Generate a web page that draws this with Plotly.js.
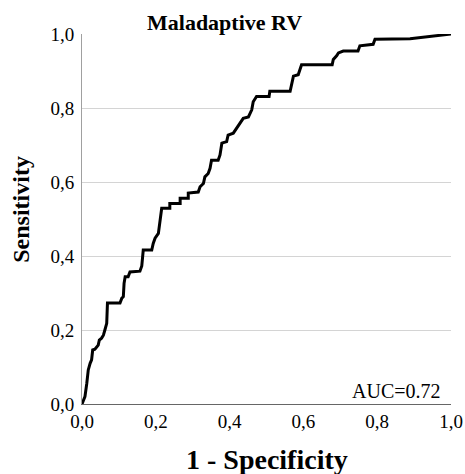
<!DOCTYPE html>
<html>
<head>
<meta charset="utf-8">
<script src="https://cdn.plot.ly/plotly-3.0.1.min.js"></script>
<style>html,body{margin:0;padding:0;background:#fff;}#chart{width:465px;height:474px;}</style>
</head>
<body>
<div id="chart"></div>
<script>
const fpr = [0, 0.008, 0.013, 0.017, 0.022, 0.026, 0.029, 0.035, 0.044, 0.047, 0.053, 0.058, 0.062, 0.067, 0.069, 0.103, 0.108, 0.112, 0.114, 0.117, 0.125, 0.130, 0.157, 0.162, 0.166, 0.189, 0.193, 0.198, 0.207, 0.211, 0.216, 0.238, 0.238, 0.266, 0.266, 0.288, 0.288, 0.315, 0.320, 0.329, 0.333, 0.342, 0.347, 0.351, 0.369, 0.374, 0.379, 0.392, 0.396, 0.410, 0.419, 0.428, 0.437, 0.451, 0.460, 0.464, 0.473, 0.507, 0.509, 0.564, 0.568, 0.573, 0.586, 0.591, 0.595, 0.678, 0.681, 0.690, 0.695, 0.708, 0.748, 0.753, 0.789, 0.794, 0.889, 1.0];
const tpr = [0, 0.020, 0.056, 0.092, 0.110, 0.119, 0.146, 0.148, 0.159, 0.173, 0.178, 0.186, 0.200, 0.218, 0.273, 0.273, 0.286, 0.290, 0.326, 0.344, 0.344, 0.357, 0.359, 0.373, 0.416, 0.416, 0.434, 0.448, 0.461, 0.488, 0.529, 0.529, 0.542, 0.542, 0.556, 0.556, 0.570, 0.573, 0.587, 0.596, 0.614, 0.623, 0.637, 0.659, 0.659, 0.673, 0.705, 0.709, 0.727, 0.732, 0.745, 0.759, 0.772, 0.776, 0.795, 0.817, 0.831, 0.831, 0.845, 0.845, 0.868, 0.886, 0.890, 0.908, 0.917, 0.917, 0.931, 0.941, 0.949, 0.954, 0.954, 0.968, 0.972, 0.986, 0.987, 1.0];
const tickVals = [0, 0.2, 0.4, 0.6, 0.8, 1.0];
const chartTitle = "Maladaptive RV";
const xTitle = "1 - Specificity";
const yTitle = "Sensitivity";
const aucLabel = "AUC=0.72";

const serif = "Liberation Serif";
const trace = {
  x: fpr, y: tpr, type: 'scatter', mode: 'lines',
  line: {color: '#000', width: 3}, cliponaxis: false, hoverinfo: 'skip'
};
const layout = {
  width: 465, height: 474,
  margin: {l: 82, r: 14, t: 34, b: 70},
  paper_bgcolor: '#fff', plot_bgcolor: '#fff',
  separators: ', ',
  showlegend: false,
  font: {family: serif, color: '#000', size: 19},
  xaxis: {
    range: [0, 1], tickvals: tickVals, tickformat: '.1f',
    showgrid: false, zeroline: false,
    showline: true, linecolor: '#666', linewidth: 1,
    ticks: '', ticklabelstandoff: 0,
    tickfont: {family: serif, size: 19, color: '#000'}, fixedrange: true
  },
  yaxis: {
    range: [0, 1], tickvals: tickVals, tickformat: '.1f',
    showgrid: true, gridcolor: '#d4d4d4', gridwidth: 1, zeroline: false,
    showline: true, linecolor: '#a0a0a0', linewidth: 1,
    ticks: '', ticklabelstandoff: 3,
    tickfont: {family: serif, size: 19, color: '#000'}, fixedrange: true
  },
  annotations: [
    {text: '<b>' + chartTitle + '</b>', xref: 'paper', yref: 'paper', x: 0.387, y: 1.0, yshift: 12,
     xanchor: 'center', yanchor: 'middle', showarrow: false, font: {family: serif, size: 22, color: '#000'}},
    {text: '<b>' + xTitle + '</b>', xref: 'paper', yref: 'paper', x: 0.5, y: 0, yshift: -55,
     xanchor: 'center', yanchor: 'middle', showarrow: false, font: {family: serif, size: 28, color: '#000'}},
    {text: '<b>' + yTitle + '</b>', xref: 'paper', yref: 'paper', x: 0, xshift: -61, y: 0.525,
     textangle: -90, xanchor: 'center', yanchor: 'middle', showarrow: false, font: {family: serif, size: 24, color: '#000'}},
    {text: aucLabel, xref: 'paper', yref: 'paper', x: 0.978, y: 0, yshift: 13,
     xanchor: 'right', yanchor: 'middle', showarrow: false, font: {family: serif, size: 20, color: '#000'}}
  ]
};
Plotly.newPlot('chart', [trace], layout, {displayModeBar: false, staticPlot: true});
</script>
</body>
</html>
